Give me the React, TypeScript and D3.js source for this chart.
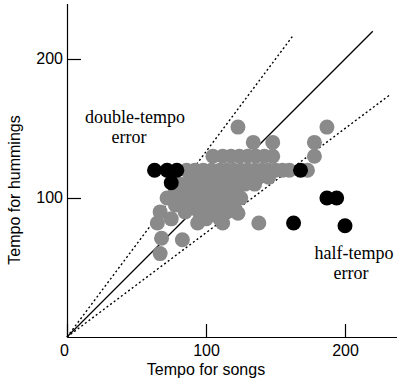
import React, { useRef, useEffect } from 'react';
import * as d3 from 'd3';

// tempo of song (x) vs tempo of humming (y), correct estimates
const grayX = [
  123, 187,
  134, 148, 178,
  105, 112, 118, 124, 130, 136, 142, 148, 178,
  86, 92, 98, 104, 110, 115, 120, 125, 130, 135, 140, 145, 150, 155, 160, 173,
  90, 100, 108, 118, 128, 138, 145,
  81, 86, 92, 98, 104, 110, 116, 122, 128, 135,
  78, 85, 92, 100, 108, 115, 122,
  72, 80, 88, 95, 102, 110, 118, 125,
  78, 88, 96, 104, 112, 120,
  67, 85, 95, 105, 115, 123,
  75, 100, 110,
  65, 94, 112, 138,
  68, 83,
  67,
];
const grayY = [
  151, 151,
  140, 140, 140,
  130, 130, 130, 130, 130, 130, 130, 130, 130,
  120, 120, 120, 120, 120, 120, 120, 120, 120, 120, 120, 120, 120, 120, 120, 120,
  115, 115, 115, 115, 115, 115, 115,
  110, 110, 110, 110, 110, 110, 110, 110, 110, 110,
  105, 105, 105, 105, 105, 105, 105,
  100, 100, 100, 100, 100, 100, 100, 100,
  95, 95, 95, 95, 95, 95,
  90, 90, 90, 90, 90, 89,
  85, 85, 85,
  82, 82, 82, 82,
  71, 70,
  60,
];

// double / half tempo errors
const blackX = [63, 72, 79, 75, 168, 187, 194, 163, 200];
const blackY = [120, 120, 120, 111, 120, 100, 100, 82, 80];

const xTicks = [0, 100, 200];
const yTicks = [100, 200];

// reference lines: y = k * x, drawn up to xEnd
const refSlopes = [1, 4 / 3, 3 / 4];
const refEnds = [220, 163, 232];

const W = 397;
const H = 383;

const App = () => {
  const svgRef = useRef(null);

  useEffect(() => {
    const x = d3.scaleLinear().domain([0, 240]).range([67, 400.6]);
    const y = d3.scaleLinear().domain([0, 240]).range([337, 3.4]);

    const svg = d3.select(svgRef.current).html('');

    // reference lines
    refSlopes.forEach((k, i) => {
      svg.append('line')
        .attr('x1', x(0)).attr('y1', y(0))
        .attr('x2', x(refEnds[i])).attr('y2', y(k * refEnds[i]))
        .attr('stroke', '#000')
        .attr('stroke-width', i === 0 ? 1.3 : 1.4)
        .attr('stroke-dasharray', i === 0 ? null : '2 2.5');
    });

    // points
    svg.append('g').selectAll('circle')
      .data(grayX.map((v, i) => [v, grayY[i]]))
      .join('circle')
      .attr('cx', d => x(d[0]))
      .attr('cy', d => y(d[1]))
      .attr('r', 7.5)
      .attr('fill', '#8a8a8a');

    svg.append('g').selectAll('circle')
      .data(blackX.map((v, i) => [v, blackY[i]]))
      .join('circle')
      .attr('cx', d => x(d[0]))
      .attr('cy', d => y(d[1]))
      .attr('r', 7.5)
      .attr('fill', '#000');

    // axes
    const gx = svg.append('g')
      .attr('transform', `translate(0,${y(0)})`)
      .call(d3.axisBottom(x).tickValues(xTicks).tickSize(-13).tickSizeOuter(0).tickPadding(8).tickFormat(d3.format('d')));
    gx.selectAll('text').attr('dx', d => (d === 0 ? -3 : 0));

    svg.append('g')
      .attr('transform', `translate(${x(0)},0)`)
      .call(d3.axisLeft(y).tickValues(yTicks).tickSize(-14).tickSizeOuter(0).tickPadding(4))
      .selectAll('text').attr('dy', '0.25em');

    svg.selectAll('.tick line, .domain').attr('stroke-width', 1.2);
    svg.selectAll('.tick text')
      .attr('font-family', 'Liberation Sans, Arial, sans-serif')
      .attr('font-size', 16)
      .attr('fill', '#000');

    // axis titles
    svg.append('text')
      .attr('x', 206).attr('y', 375)
      .attr('text-anchor', 'middle')
      .attr('font-family', 'Liberation Sans, Arial, sans-serif')
      .attr('font-size', 16)
      .text('Tempo for songs');
    svg.append('text')
      .attr('transform', 'translate(20,190) rotate(-90)')
      .attr('text-anchor', 'middle')
      .attr('font-family', 'Liberation Sans, Arial, sans-serif')
      .attr('font-size', 16)
      .text('Tempo for hummings');

    // annotations
    const serif = 'Liberation Serif, Times New Roman, serif';
    const note = (tx, ty, s) => svg.append('text')
      .attr('x', tx).attr('y', ty).attr('text-anchor', 'middle')
      .attr('font-family', serif).attr('font-size', 18).text(s);
    note(135, 123, 'double-tempo');
    note(129, 143, 'error');
    note(354, 259, 'half-tempo');
    note(351, 279, 'error');
  }, []);

  return (
    <svg ref={svgRef} width={W} height={H}
      style={{ position: 'absolute', left: 0, top: 0, background: '#fff' }} />
  );
};

export default App;
